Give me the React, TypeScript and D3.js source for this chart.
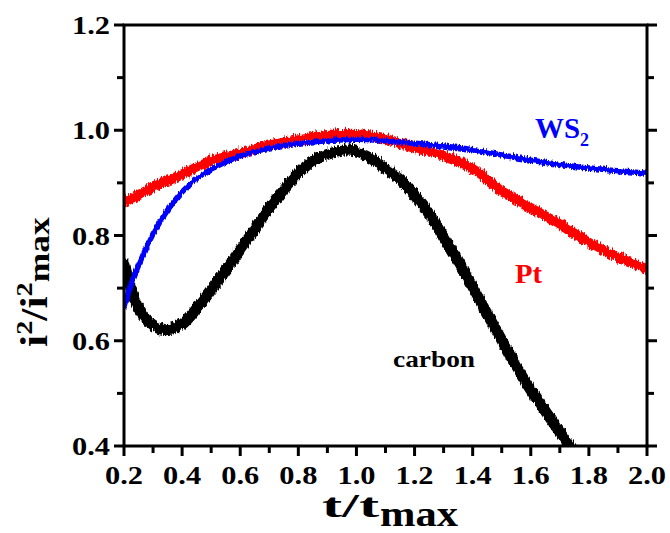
import React from "react";
import * as d3 from "d3";

// Carbon (black)
const carbonT = [0.2, 0.225, 0.25, 0.3, 0.35, 0.4, 0.45, 0.5, 0.55, 0.6, 0.65, 0.7, 0.75, 0.8, 0.85, 0.9, 0.95, 1.0, 1.05, 1.1, 1.15, 1.2, 1.25, 1.3, 1.35, 1.4, 1.45, 1.5, 1.55, 1.6, 1.65, 1.7, 1.75];
const carbonV = [0.75, 0.7, 0.665, 0.632, 0.625, 0.635, 0.665, 0.7, 0.737, 0.777, 0.815, 0.855, 0.89, 0.922, 0.945, 0.958, 0.964, 0.962, 0.95, 0.93, 0.91, 0.88, 0.845, 0.8, 0.755, 0.705, 0.655, 0.605, 0.555, 0.51, 0.47, 0.43, 0.39];

// Pt (red)
const ptT = [0.2, 0.3, 0.4, 0.5, 0.6, 0.7, 0.8, 0.9, 1.0, 1.1, 1.2, 1.3, 1.4, 1.5, 1.6, 1.7, 1.8, 1.9, 2.0];
const ptV = [0.865, 0.895, 0.92, 0.945, 0.96, 0.975, 0.985, 0.993, 0.995, 0.987, 0.97, 0.955, 0.93, 0.888, 0.856, 0.825, 0.79, 0.762, 0.74];

// WS2 (blue)
const ws2T = [0.2, 0.225, 0.25, 0.3, 0.35, 0.4, 0.45, 0.5, 0.6, 0.7, 0.8, 0.9, 1.0, 1.1, 1.2, 1.3, 1.4, 1.5, 1.6, 1.7, 1.8, 1.9, 2.0];
const ws2V = [0.665, 0.71, 0.745, 0.805, 0.85, 0.885, 0.91, 0.928, 0.953, 0.968, 0.977, 0.982, 0.985, 0.982, 0.977, 0.972, 0.965, 0.955, 0.945, 0.937, 0.93, 0.925, 0.92];

const xTicks = [0.2, 0.4, 0.6, 0.8, 1.0, 1.2, 1.4, 1.6, 1.8, 2.0];
const xMinor = [0.3, 0.5, 0.7, 0.9, 1.1, 1.3, 1.5, 1.7, 1.9];
const yTicks = [0.4, 0.6, 0.8, 1.0, 1.2];
const yMinor = [0.5, 0.7, 0.9, 1.1];

const W = 670, H = 533;
const L = 124, R = 647, T = 25, B = 446;
const FONT = "'Liberation Serif', 'Times New Roman', serif";

export default function App() {
  const x = d3.scaleLinear().domain([0.2, 2.0]).range([L, R]);
  const y = d3.scaleLinear().domain([0.4, 1.2]).range([B, T]);
  const mk = (ts: number[], vs: number[]) =>
    d3.line<number>().x((_, i) => x(ts[i])).y((_, i) => y(vs[i])).curve(d3.curveCatmullRom)(vs) || "";

  const jitter = (id: string, seed: number, scale: number) => (
    <filter id={id} filterUnits="userSpaceOnUse" x={0} y={0} width={W} height={H}>
      <feTurbulence type="turbulence" baseFrequency="0.9 0.08" numOctaves={2} seed={seed} result="n" />
      <feColorMatrix in="n" type="matrix"
        values="0 0 0 0 0.5  0 1 0 0 0  0 0 0 0 0  0 0 0 0 1" result="m" />
      <feDisplacementMap in="SourceGraphic" in2="m" scale={scale} xChannelSelector="R" yChannelSelector="G" />
    </filter>
  );

  return (
    <svg width={W} height={H} style={{ position: "absolute", left: 0, top: 0, background: "#fff" }}
      fontFamily={FONT} fontWeight="bold">
      <defs>
        <clipPath id="plot"><rect x={L} y={T} width={R - L} height={B - T} /></clipPath>
        {jitter("jitK", 3, 7)}
        {jitter("jitR", 11, 7)}
        {jitter("jitB", 7, 5)}
      </defs>
      <g clipPath="url(#plot)">
        <g fill="none" strokeLinejoin="round" strokeLinecap="round">
          <path d={mk(carbonT, carbonV)} stroke="#000" strokeWidth={11} filter="url(#jitK)" />
          <path d={mk(ptT, ptV)} stroke="#ff0000" strokeWidth={10} filter="url(#jitR)" />
          <path d={mk(ws2T, ws2V)} stroke="#0000ff" strokeWidth={5.5} filter="url(#jitB)" />
        </g>
      </g>
      {/* frame */}
      <rect x={L} y={T} width={R - L} height={B - T} fill="none" stroke="#000" strokeWidth={3} />
      {/* x ticks */}
      {xTicks.map((t) => (
        <g key={"xt" + t}>
          <line x1={x(t)} x2={x(t)} y1={B} y2={B + 10} stroke="#000" strokeWidth={3} />
          <text x={x(t)} y={B + 38} textAnchor="middle" fontSize={26} textLength={38} lengthAdjust="spacingAndGlyphs">{t.toFixed(1)}</text>
        </g>
      ))}
      {xMinor.map((t) => (
        <line key={"xm" + t} x1={x(t)} x2={x(t)} y1={B} y2={B + 7} stroke="#000" strokeWidth={3} />
      ))}
      {/* y ticks */}
      {yTicks.map((v) => (
        <g key={"yt" + v}>
          <line x1={L - 10} x2={L} y1={y(v)} y2={y(v)} stroke="#000" strokeWidth={3} />
          <line x1={R} x2={R + 10} y1={y(v)} y2={y(v)} stroke="#000" strokeWidth={3} />
          <text x={L - 14} y={y(v) + 9} textAnchor="end" fontSize={26} textLength={38} lengthAdjust="spacingAndGlyphs">{v.toFixed(1)}</text>
        </g>
      ))}
      {yMinor.map((v) => (
        <g key={"ym" + v}>
          <line x1={L - 7} x2={L} y1={y(v)} y2={y(v)} stroke="#000" strokeWidth={3} />
          <line x1={R} x2={R + 7} y1={y(v)} y2={y(v)} stroke="#000" strokeWidth={3} />
        </g>
      ))}
      {/* axis titles */}
      <text x={322} y={517} fontSize={34} textLength={57} lengthAdjust="spacingAndGlyphs">t/t</text>
      <text x={380} y={526} fontSize={35} textLength={78} lengthAdjust="spacingAndGlyphs">max</text>
      <g transform="translate(47,347) rotate(-90) scale(1.18,1)">
        <text fontSize={37}>
          i<tspan dy={-15} fontSize={24}>2</tspan><tspan dy={15}>/i</tspan><tspan dy={-15} fontSize={24}>2</tspan><tspan dy={17} fontSize={30}>max</tspan>
        </text>
      </g>
      {/* series labels */}
      <text x={535} y={138} fontSize={29} fill="#0000ff">
        <tspan textLength={45} lengthAdjust="spacingAndGlyphs">WS</tspan><tspan dy={8} fontSize={18}>2</tspan>
      </text>
      <text x={515} y={283} fontSize={27} fill="#ff0000" textLength={27} lengthAdjust="spacingAndGlyphs">Pt</text>
      <text x={393} y={367} fontSize={24} fill="#000" textLength={82} lengthAdjust="spacingAndGlyphs">carbon</text>
    </svg>
  );
}
